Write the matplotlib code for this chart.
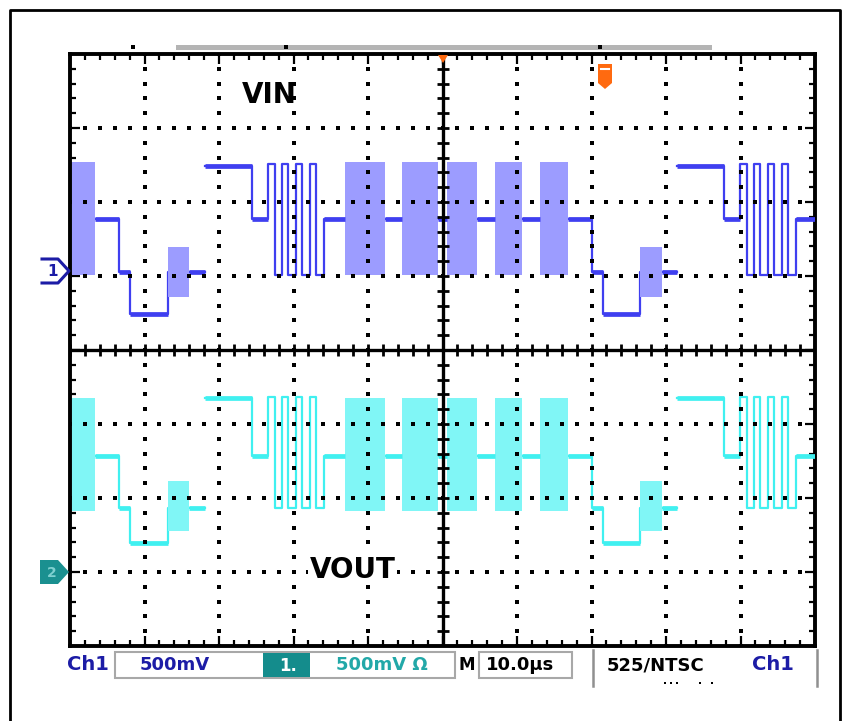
import matplotlib
matplotlib.use("Agg")
import matplotlib.pyplot as plt
from matplotlib.patches import Polygon, Rectangle

# time in us (10 us/div, 10 div), vertical in screen divisions (-4..4)
line_starts_us = [-45.3, 18.1, 81.5]

# one NTSC video line, times relative to the rising edge of the white level
seg_start = [0.0, 6.3, 8.46, 15.97, 18.8, 24.2, 26.4, 31.3, 32.5, 36.5,
             38.9, 42.6, 45.0, 48.7, 51.9, 53.4, 58.4, 61.3]
seg_end = [6.3, 8.46, 15.97, 18.8, 24.2, 26.4, 31.3, 32.5, 36.5, 38.9,
           42.6, 45.0, 48.7, 51.9, 53.4, 58.4, 61.3, 63.4]
seg_kind = ["high", "mid", "square", "mid", "burst", "mid", "burst", "mid",
            "burst", "mid", "burst", "mid", "burst", "mid", "step", "low",
            "small", "step"]
square_edges_us = [8.46, 9.40, 10.34, 11.14, 12.21, 13.02, 14.09, 14.90, 15.97]

ch1_levels = {"high": 2.49, "mid": 1.77, "step": 1.06, "low": 0.48,
              "burst_hi": 2.54, "burst_lo": 1.02, "small_hi": 1.39,
              "small_lo": 0.72, "sq_hi": 2.52, "sq_lo": 1.02}
ch2_levels = {"high": -0.65, "mid": -1.43, "step": -2.14, "low": -2.61,
              "burst_hi": -0.65, "burst_lo": -2.18, "small_hi": -1.77,
              "small_lo": -2.45, "sq_hi": -0.63, "sq_lo": -2.14}

ch1_color, ch1_fill = "#3f3ff0", "#9c9cff"
ch2_color, ch2_fill = "#40f0f0", "#80f6f6"


def draw_channel(ax, lv, color, fill):
    for L in line_starts_us:
        xs, ys = [], []
        for a, b, kind in zip(seg_start, seg_end, seg_kind):
            t0, t1 = L + a, L + b
            if kind == "square":
                level = lv["sq_hi"]
                xs.append(t0); ys.append(lv["mid"])
                for i, e in enumerate(square_edges_us):
                    e = L + e
                    if i == len(square_edges_us) - 1:
                        xs += [e, e]; ys += [ys[-1], lv["mid"]]
                    else:
                        xs += [e, e]; ys += [ys[-1], level]
                        level = lv["sq_lo"] if level == lv["sq_hi"] else lv["sq_hi"]
                continue
            if kind == "burst":
                ax.fill_between([t0, t1], lv["burst_lo"], lv["burst_hi"],
                                color=fill, lw=0, zorder=2)
                y = lv["mid"]
            elif kind == "small":
                ax.fill_between([t0, t1], lv["small_lo"], lv["small_hi"],
                                color=fill, lw=0, zorder=2)
                y = lv["step"]
            else:
                y = lv[kind]
                ax.plot([t0, t1], [y, y], color=color, lw=3.4,
                        solid_capstyle="butt", zorder=3)
            xs += [t0, t1]; ys += [y, y]
        # connecting trace sits under the burst fills
        ax.plot(xs, ys, color=color, lw=1.6, zorder=1.8)


fig = plt.figure(figsize=(8.5, 7.21), dpi=100)
ax = fig.add_axes([70 / 850, (721 - 646) / 721, 745 / 850, 592 / 721])
ax.set_xlim(0, 100)
ax.set_ylim(-4, 4)

draw_channel(ax, ch1_levels, ch1_color, ch1_fill)
draw_channel(ax, ch2_levels, ch2_color, ch2_fill)

# dotted graticule
dot_x = [2 * i for i in range(51)]
dot_y = [-4 + 0.2 * i for i in range(41)]
for gy in [-3, -2, -1, 1, 2, 3]:
    ax.plot(dot_x, [gy] * len(dot_x), "s", ms=2.3, color="k", mew=0, zorder=4)
for gx in [10, 20, 30, 40, 60, 70, 80, 90]:
    ax.plot([gx] * len(dot_y), dot_y, "s", ms=2.3, color="k", mew=0, zorder=4)

# centre cross with ticks
ax.axvline(50, color="k", lw=2.4, zorder=5)
ax.axhline(0, color="k", lw=2.4, zorder=5)
ax.plot([50] * len(dot_y), dot_y, "_", ms=9, mew=2, color="k", zorder=5)
ax.plot(dot_x, [0] * len(dot_x), "|", ms=9, mew=2, color="k", zorder=5)

ax.set_xticks(range(0, 101, 10))
ax.set_xticks(range(0, 101, 2), minor=True)
ax.set_yticks(range(-4, 5))
ax.set_yticks(dot_y, minor=True)
ax.tick_params(which="both", direction="in", top=True, right=True,
               labelbottom=False, labelleft=False, color="k", width=1.6)
ax.tick_params(which="major", length=7)
ax.tick_params(which="minor", length=4)
for s in ax.spines.values():
    s.set_linewidth(2.8)

ax.text(26.8, 3.45, "VIN", fontsize=20, fontweight="bold", ha="center",
        va="center", zorder=6)
ax.text(37.9, -2.97, "VOUT", fontsize=20, fontweight="bold", ha="center",
        va="center", zorder=6,
        bbox=dict(facecolor="white", edgecolor="none", pad=1))

# overlay in pixel coordinates for the scope chrome
ov = fig.add_axes([0, 0, 1, 1])
ov.set_xlim(0, 850)
ov.set_ylim(721, 0)
ov.axis("off")
ov.patch.set_alpha(0)

ov.plot([10, 10, 840, 840], [725, 10, 10, 725], color="k", lw=2)
ov.add_patch(Rectangle((176, 45), 536, 5, color="#b4b4b4", lw=0))
ov.plot([133, 286, 600], [47, 47, 47], "s", ms=2.2, color="k", mew=0)

orange = "#ff6a10"
ov.add_patch(Polygon([(438, 55), (448, 55), (443, 63)], color=orange, lw=0))
ov.add_patch(Polygon([(598, 64), (612, 64), (612, 83), (605, 89), (598, 83)],
                     color=orange, lw=0))
ov.plot([601, 609], [69, 69], color="white", lw=1.5)

blue = "#1c1ca6"
teal = "#1a9090"
ov.plot([42, 58, 69, 58, 42], [259, 259, 271, 283, 283], color=blue, lw=2.2)
ov.text(53, 272, "1", fontsize=11, fontweight="bold", color=blue,
        ha="center", va="center")
ov.add_patch(Polygon([(40, 560), (58, 560), (69, 572), (58, 584), (40, 584)],
                     color=teal, lw=0))
ov.text(52, 573, "2", fontsize=10, fontweight="bold", color="#7fd0d0",
        ha="center", va="center")

# status bar
status_y = 665
ov.text(67, status_y, "Ch1", fontsize=14, fontweight="bold", color=blue,
        va="center", ha="left")
ov.add_patch(Rectangle((115, 652), 340, 26, fill=False, ec="#a8a8a8", lw=1.5))
ov.text(140, status_y, "500mV", fontsize=13, fontweight="bold", color=blue,
        va="center", ha="left")
ov.add_patch(Rectangle((263, 653), 47, 24, color="#148c8c", lw=0))
ov.text(288, status_y + 1, "1.", fontsize=12, fontweight="bold", color="white",
        va="center", ha="center")
ov.text(336, status_y, "500mV \u03a9", fontsize=13, fontweight="bold",
        color="#22a8a8", va="center", ha="left")
ov.text(459, status_y, "M", fontsize=12, fontweight="bold", color="k",
        va="center", ha="left")
ov.add_patch(Rectangle((479, 652), 93, 26, fill=False, ec="#a8a8a8", lw=1.5))
ov.text(486, status_y, "10.0\u00b5s", fontsize=13, fontweight="bold",
        color="k", va="center", ha="left")
ov.plot([593, 593], [650, 686], color="#909090", lw=1.8)
ov.text(607, status_y, "525/NTSC", fontsize=13, fontweight="bold", color="k",
        va="center", ha="left")
ov.plot([665, 671, 677, 700, 712], [683] * 5, "s", ms=1.6, color="k", mew=0)
ov.text(752, status_y, "Ch1", fontsize=14, fontweight="bold", color=blue,
        va="center", ha="left")
ov.plot([817, 817], [650, 686], color="#909090", lw=1.8)

fig.savefig("out.png", dpi=100)
